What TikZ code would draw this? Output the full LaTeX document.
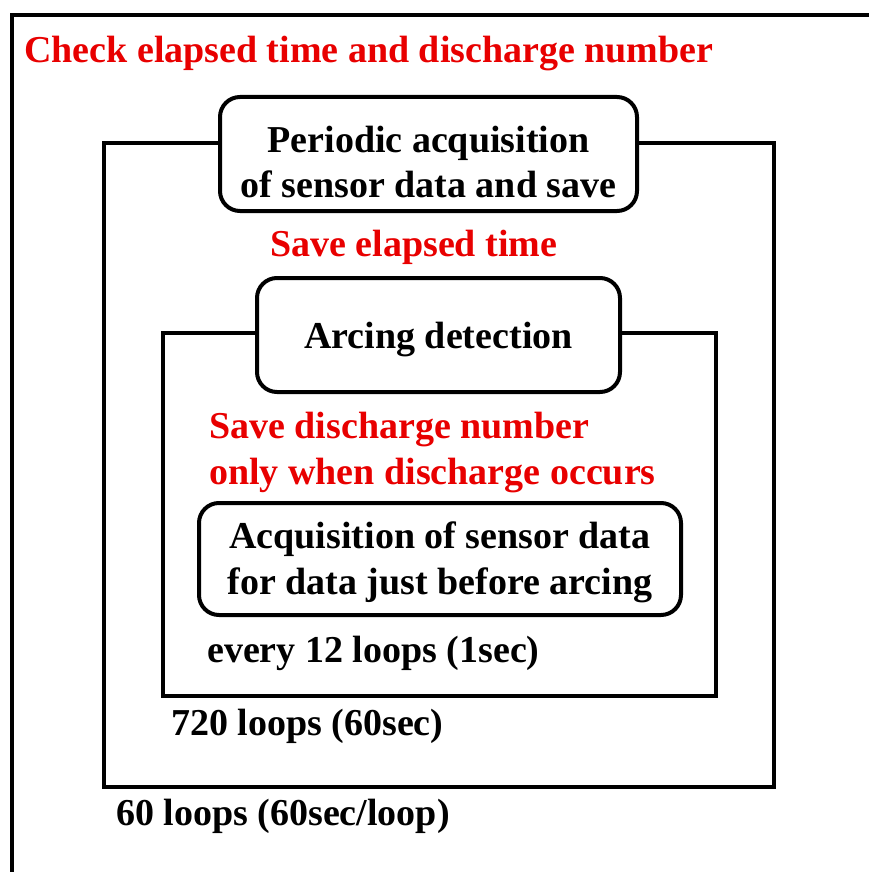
\documentclass[tikz,border=0pt]{standalone}
\usepackage{fontspec}
\setmainfont{Liberation Serif}
\definecolor{notered}{RGB}{232,0,0}
\begin{document}
\begin{tikzpicture}[x=1pt,y=-1pt,
  frameline/.style={line width=3.6pt, line join=miter},
  loopline/.style={line width=4pt, line join=miter},
  stagebox/.style={draw, line width=4pt, rounded corners=20pt, fill=white,
    inner sep=0pt, align=center,
    font=\fontsize{38}{45.5}\selectfont\bfseries},
  txt/.style={inner sep=0pt, font=\fontsize{38}{45.5}\selectfont\bfseries},
  note/.style={txt, text=notered}
]
\useasboundingbox (0,0) rectangle (869,872);
\clip (0,0) rectangle (869,872);

% outer frame (continues past the right and bottom edges)
\coordinate (outerTR) at (880,15);
\coordinate (outerBL) at (12,880);
\draw[frameline] (outerTR) -| (outerBL);

% loop corners
\coordinate (l60nw) at (104,143);
\coordinate (l60se) at (774,787);
\coordinate (l720nw) at (163,333);
\coordinate (l720se) at (716,696);

% process boxes
\node[stagebox, minimum width=417, minimum height=114] (periodic) at (428.5,154)
  {\rule{0pt}{42pt}Periodic acquisition\\of sensor data and save};
\node[stagebox, minimum width=363, minimum height=114,
  text height=33.8pt, text depth=7.8pt] (arcing) at (438.5,335)
  {Arcing detection};
\node[stagebox, minimum width=482, minimum height=112] (acq) at (440,559)
  {\rule{0pt}{33.8pt}Acquisition of sensor data\\for data just before arcing};

% loop frames hanging off the boxes
\draw[loopline] (periodic.west |- l60nw) -- (l60nw) |- (l60se) |- (periodic.east |- l60nw);
\draw[loopline] (arcing.west |- l720nw) -- (l720nw) |- (l720se) |- (arcing.east |- l720nw);

% labels
\node[note, anchor=base west] (title) at (24,63) {Check elapsed time and discharge number};
\node[note, anchor=base west] (savetime) at (270,256) {Save elapsed time};
\node[note, anchor=north west, align=left] (savenum) at (209,412)
  {Save discharge number\\only when discharge occurs};
\node[txt, anchor=base west] (every12) at (207,662) {every 12 loops (1sec)};
\node[txt, anchor=base west] (loops720) at (171,735) {720 loops (60sec)};
\node[txt, anchor=base west] (loops60) at (116,825) {60 loops (60sec/loop)};
\end{tikzpicture}
\end{document}
